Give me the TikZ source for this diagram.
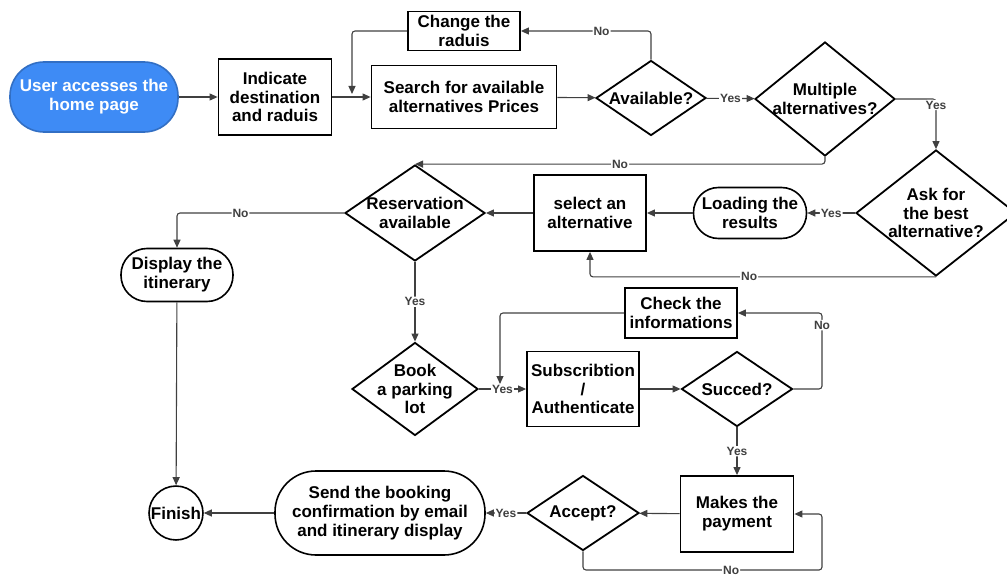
\documentclass[tikz,border=0pt]{standalone}
\usepackage{fontspec}
\setmainfont{Liberation Sans}
\usepackage{xcolor}
\usetikzlibrary{arrows.meta, shapes.geometric}

\definecolor{startblue}{RGB}{62,139,245}
\newcommand{\boxfont}{\fontsize{17}{18.8}\selectfont\bfseries}
\newcommand{\tagfont}{\fontsize{12}{13}\selectfont\bfseries}

\begin{document}
\begin{tikzpicture}[
    x=1pt, y=-1pt,
    every node/.style={font=\boxfont},
    proc/.style={draw, line width=1.8pt, align=center, inner sep=2pt,
                 minimum width=112pt, minimum height=76pt},
    term/.style={draw, line width=1.6pt, align=center, inner sep=2pt,
                 rounded corners=25pt, minimum width=112pt, minimum height=52pt},
    dec/.style={diamond, draw, line width=1.8pt, inner sep=0pt},
    dectext/.style={align=center},
    arr/.style={-{Triangle[length=8pt,width=7pt]}, line width=1.1pt,
                draw=black!75, rounded corners=3pt},
    lbl/.style={fill=white, inner sep=1pt, font=\tagfont, text=black!75}
]
\useasboundingbox (0,0) rectangle (1007,578);

\node[term, fill=startblue, draw=startblue!80!black, text=white,
      minimum width=168pt, minimum height=70pt, rounded corners=34pt] (start) at (94,97)
    {User accesses the\\home page};
\node[proc, minimum width=113pt] (indic) at (275,97) {Indicate\\destination\\and raduis};
\node[proc, minimum height=39pt] (change) at (464,31) {Change the\\raduis};
\node[proc, minimum width=185pt, minimum height=63pt] (search) at (464,97)
    {Search for available\\alternatives Prices};
\node[dec, minimum width=110pt, minimum height=75pt,
      label={[dectext]center:Available?}] (avail) at (651,98) {};
\node[dec, minimum width=140pt, minimum height=114pt,
      label={[dectext]center:{Multiple\\alternatives?}}] (multi) at (825,99) {};
\node[dec, minimum width=160pt, minimum height=126pt,
      label={[dectext]center:{Ask for\\the best\\alternative?}}] (ask) at (936,213) {};
\node[term, minimum width=113pt, minimum height=51pt] (load) at (750,213) {Loading the\\results};
\node[proc] (select) at (590,213) {select an\\alternative};
\node[dec, minimum width=140pt, minimum height=96pt,
      label={[dectext]center:{Reservation\\available}}] (resv) at (415,213) {};
\node[term, minimum height=53pt, rounded corners=26pt] (display) at (177,275) {Display the\\itinerary};
\node[dec, minimum width=126pt, minimum height=93pt,
      label={[dectext]center:{Book\\a parking\\lot}}] (book) at (415,389) {};
\node[proc, minimum height=75pt] (subscr) at (583,389) {Subscribtion\\/\\Authenticate};
\node[proc, minimum height=50pt] (check) at (681,313) {Check the\\informations};
\node[dec, minimum width=111pt, minimum height=75pt,
      label={[dectext]center:Succed?}] (succ) at (737,389) {};
\node[proc, minimum width=113pt] (pay) at (737,514) {Makes the\\payment};
\node[dec, minimum width=112pt, minimum height=75pt,
      label={[dectext]center:Accept?}] (accept) at (583,513) {};
\node[term, minimum width=210pt, minimum height=84pt, rounded corners=41pt] (send) at (380,513)
    {Send the booking\\confirmation by email\\and itinerary display};
\node[circle, draw, line width=1.6pt, minimum size=52pt, inner sep=1pt] (finish) at (176,513) {Finish};

\coordinate (chjoin) at (352,94);
\coordinate (ckjoin) at (500,384);
\coordinate (sucturn) at (822,313);
\coordinate (accturn) at (822,570);

\draw[arr] (start) -- (indic);
\draw[arr] (indic) -- (search);
\draw[arr] (change.west) -| (chjoin);
\draw[arr] (search) -- (avail);
\draw[arr] (avail.north) |- node[lbl, pos=0.69] {No} (change.east);
\draw[arr] (avail) -- node[lbl] {Yes} (multi);
\draw[arr] (multi.east) -| node[lbl, pos=0.56] {Yes} (ask.north);
\draw[arr] (multi.south) |- node[lbl, pos=0.75] {No} (resv.north);
\draw[arr] (ask) -- node[lbl] {Yes} (load);
\draw[arr] (ask.south) -| node[lbl, pos=0.27] {No} (select.south);
\draw[arr] (load) -- (select);
\draw[arr] (select) -- (resv);
\draw[arr] (resv.west) -| node[lbl, pos=0.31] {No} (display.north);
\draw[arr] (resv) -- node[lbl] {Yes} (book);
\draw[arr] (book) -- node[lbl] {Yes} (subscr);
\draw[arr] (check.west) -| (ckjoin);
\draw[arr] (subscr) -- (succ);
\draw[arr] (succ.east) -| node[lbl, pos=0.92] {No} (sucturn) -- (check.east);
\draw[arr] (succ) -- node[lbl] {Yes} (pay);
\draw[arr] (pay) -- (accept);
\draw[arr] (accept.south) |- node[lbl, pos=0.81] {No} (accturn) |- (pay.east);
\draw[arr] (accept) -- node[lbl] {Yes} (send);
\draw[arr] (send) -- (finish);
\draw[arr] (display) -- (finish);
\end{tikzpicture}
\end{document}
